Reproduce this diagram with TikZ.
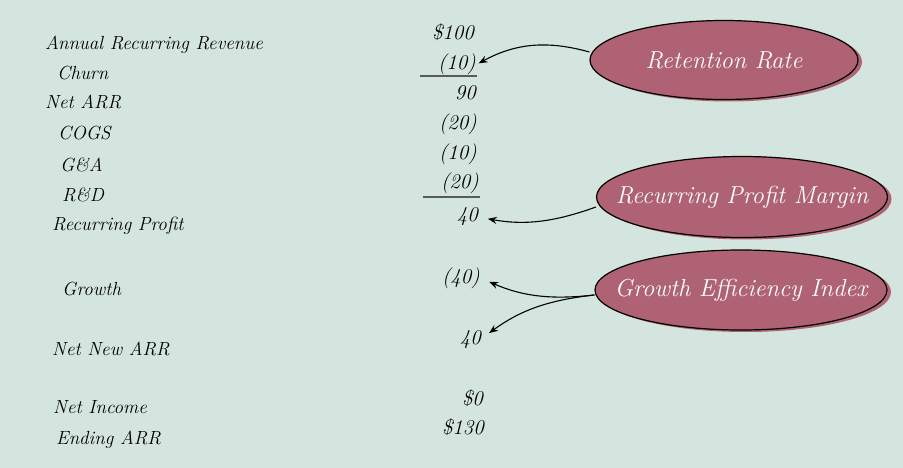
\documentclass[tikz,border=0pt]{standalone}
\usetikzlibrary{arrows.meta,shapes.geometric,shadows}
\definecolor{bgmint}{HTML}{D4E5DF}
\definecolor{rosewine}{HTML}{AE6273}

\begin{document}
\begin{tikzpicture}[x=1pt,y=-1pt,
		lbl/.style={anchor=base west,inner sep=0pt,font=\fontsize{19}{21}\selectfont\itshape},
		num/.style={anchor=base east,inner sep=0pt,font=\fontsize{21}{23}\selectfont\itshape},
		bub/.style={ellipse,draw,line width=1.2pt,fill=rosewine,text=white,inner xsep=-28pt,inner ysep=0pt,
			font=\fontsize{24.5}{26}\selectfont\itshape,
			drop shadow={shadow xshift=4pt,shadow yshift=-2pt,fill=rosewine,opacity=1}},
		sumline/.style={draw=black!65,line width=1.4pt},
		>={Stealth[length=9pt,width=7pt]}]
	\fill[bgmint] (0,0) rectangle (903,468);
	\useasboundingbox (0,0) rectangle (903,468);
	%% define labels
	\node (arr) at (45,50) [lbl] {Annual Recurring Revenue};
	\node (churn) at (57,80) [lbl] {Churn};
	\node (netarr) at (45,109) [lbl] {Net ARR};
	\node (cogs) at (58,140) [lbl] {COGS};
	\node (ga) at (60,172) [lbl] {G\&A};
	\node (rd) at (62,201) [lbl] {R\&D};
	\node (rprofit) at (52,230) [lbl] {Recurring Profit};
	\node (growth) at (62,295) [lbl] {Growth};
	\node (newarr) at (52,355) [lbl] {Net New ARR};
	\node (income) at (53,413) [lbl] {Net Income};
	\node (endarr) at (56,444) [lbl] {Ending ARR};
	%% define values
	\node (v100) at (474,40) [num] {\$100};
	\node (vchurn) at (476,70) [num] {(10)};
	\node (v90) at (476,100) [num] {90};
	\node (vcogs) at (477,130) [num] {(20)};
	\node (vga) at (477,160) [num] {(10)};
	\node (vrd) at (479,189) [num] {(20)};
	\node (vprofit) at (478,222) [num] {40};
	\node (vgrowth) at (480,283) [num] {(40)};
	\node (vnew) at (481,344) [num] {40};
	\node (vincome) at (483,405) [num] {\$0};
	\node (vend) at (484,434) [num] {\$130};
	%% sum lines
	\draw[sumline] (420,76) -- (477,76);
	\draw[sumline] (423,197) -- (480,197);
	%% define bubbles
	\node (retention) at (724,60) [bub,minimum width=268pt,minimum height=79pt] {Retention Rate};
	\node (margin) at (742,197) [bub,minimum width=291pt,minimum height=81pt] {Recurring Profit Margin};
	\node (efficiency) at (741,290) [bub,minimum width=292pt,minimum height=80pt] {Growth Efficiency Index};
	%% define arrows
	\draw[->,line width=1.1pt,shorten >=3pt] ([yshift=8pt]retention.west) to[bend right=22] (vchurn.east);
	\draw[->,line width=1.1pt,shorten >=10pt] ([yshift=-10pt]margin.west) to[bend left=15] (vprofit.east);
	\draw[->,line width=1.1pt,shorten >=10pt] ([yshift=-5pt]efficiency.west) to[bend left=15] (vgrowth.east);
	\draw[->,line width=1.1pt,shorten >=10pt] ([yshift=-5pt]efficiency.west) to[bend right=15] (vnew.east);
\end{tikzpicture}
\end{document}
